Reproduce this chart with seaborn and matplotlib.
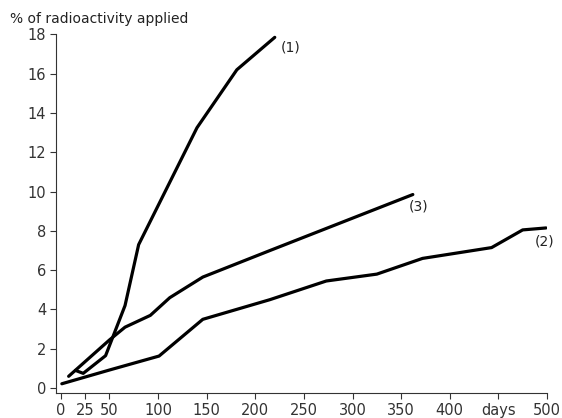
import matplotlib
matplotlib.use("Agg")
import matplotlib.pyplot as plt
import seaborn as sns
import pandas as pd

# Data
days_1 = [15, 23, 46, 66, 80, 140, 181, 220]
vals_1 = [0.9, 0.75, 1.65, 4.2, 7.3, 13.25, 16.2, 17.85]

days_2 = [1, 50, 101, 146, 215, 273, 325, 372, 443, 475, 499]
vals_2 = [0.22, 0.92, 1.63, 3.5, 4.5, 5.45, 5.8, 6.6, 7.15, 8.05, 8.15]

days_3 = [8, 50, 66, 92, 112, 146, 215, 362]
vals_3 = [0.6, 2.45, 3.1, 3.7, 4.6, 5.65, 7.0, 9.85]

curve_names = ["(1)", "(2)", "(3)"]
x_ticks = [0, 25, 50, 100, 150, 200, 250, 300, 350, 400, 450, 500]
x_tick_labels = ["0", "25", "50", "100", "150", "200", "250", "300", "350", "400", "days", "500"]
y_ticks = [0, 2, 4, 6, 8, 10, 12, 14, 16, 18]
y_tick_labels = ["0", "2", "4", "6", "8", "10", "12", "14", "16", "18"]
y_title = "% of radioactivity applied"

frames = []
for name, d, v in zip(curve_names, [days_1, days_2, days_3], [vals_1, vals_2, vals_3]):
    frames.append(pd.DataFrame({"days": d, "value": v, "curve": name}))
df = pd.concat(frames, ignore_index=True)

sns.set_style("ticks")
plt.rcParams["font.family"] = ["DejaVu Sans"]

fig = plt.figure(figsize=(5.62, 4.18), dpi=100)
ax = fig.add_axes([56 / 562, 1 - 393 / 418, (547 - 56) / 562, (393 - 34) / 418])

sns.lineplot(data=df, x="days", y="value", units="curve", estimator=None,
             color="black", linewidth=2.3, sort=False, ax=ax)

ax.set_xlim(-5, 500)
ax.set_ylim(-0.25, 18.02)
ax.set_xticks(x_ticks)
ax.set_xticklabels(x_tick_labels)
ax.set_yticks(y_ticks)
ax.set_yticklabels(y_tick_labels)
ax.tick_params(axis="both", labelsize=10.5, length=4, width=0.8, color="#333333",
               labelcolor="#333333", pad=3)
for s in ["top", "right"]:
    ax.spines[s].set_visible(False)
for s in ["left", "bottom"]:
    ax.spines[s].set_linewidth(0.8)
    ax.spines[s].set_color("#333333")
ax.set_xlabel("")
ax.set_ylabel("")

# curve labels
ax.text(days_1[-1] + 6, vals_1[-1] - 0.5, curve_names[0], fontsize=10, color="#222222",
        ha="left", va="center")
ax.text(days_2[-1] - 2, vals_2[-1] - 0.7, curve_names[1], fontsize=10, color="#222222",
        ha="center", va="center")
ax.text(days_3[-1] + 6, vals_3[-1] - 0.6, curve_names[2], fontsize=10, color="#222222",
        ha="center", va="center")

fig.text(10 / 562, 1 - 19 / 418, y_title, fontsize=10, color="#222222",
         ha="left", va="center")

fig.savefig("out.png", dpi=100, facecolor="white")
